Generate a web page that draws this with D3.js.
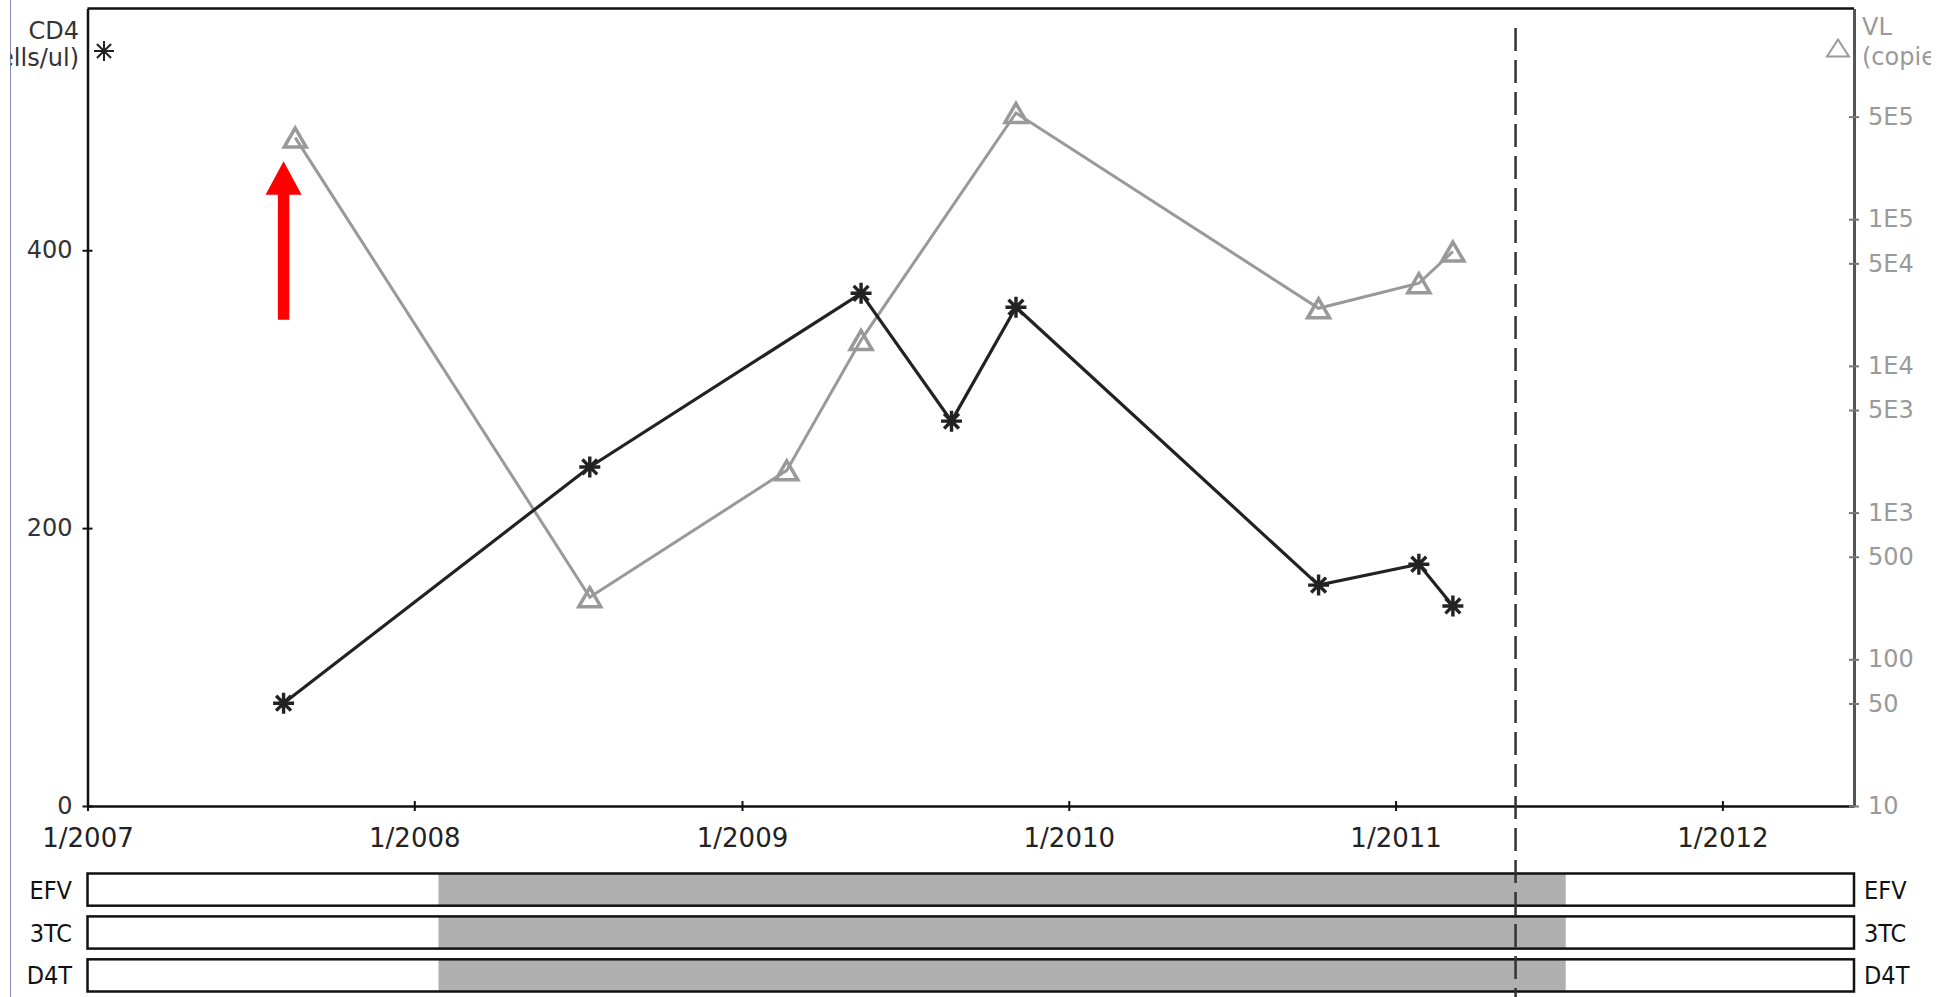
<!DOCTYPE html>
<html><head><meta charset="utf-8">
<script src="https://cdn.jsdelivr.net/npm/d3@7"></script>
<style>body{margin:0;background:#fff;overflow:hidden} svg{display:block}</style>
</head><body>
<svg id="c" width="1952" height="997"></svg>
<script>
// ---- data ----
const cd4Dates  = ["2007-08-08","2008-07-15","2009-05-14","2009-08-23","2009-11-03","2010-10-07","2011-01-27","2011-03-06"];
const cd4Values = [74, 244, 369, 277, 359, 159, 174, 144];
const vlDates   = ["2007-08-21","2008-07-15","2009-02-20","2009-05-14","2009-11-03","2010-10-07","2011-01-27","2011-03-06"];
const vlValues  = [360000, 265, 1940, 15000, 530000, 24700, 36600, 60200];
const xTickDates = ["2007-01-01","2008-01-01","2009-01-01","2010-01-01","2011-01-01","2012-01-01"];
const leftTicks  = [0, 200, 400];
const rightTicks = [10, 50, 100, 500, 1000, 5000, 10000, 50000, 100000, 500000];
const rightTickLabels = ["10","50","100","500","1E3","5E3","1E4","5E4","1E5","5E5"];
const drugs      = ["EFV","3TC","D4T"];
const drugStart  = ["2008-01-28","2008-01-28","2008-01-28"];
const drugEnd    = ["2011-07-10","2011-07-10","2011-07-10"];
const markerDate = "2011-05-15";
const arrowDate  = "2007-08-08";
const arrowCD4   = [350, 440, 464]; // shaft bottom, head base, tip (CD4 units)
const xDomain    = ["2007-01-01","2012-05-27"];
const cd4Max = 574, vlMin = 10, vlMax = 2.73e6;

// ---- setup ----
const parse = d3.utcParse("%Y-%m-%d");
const svg = d3.select("#c");
const L = 87.5, R = 1854, T = 8.5, B = 806;
const x = d3.scaleUtc().domain(xDomain.map(parse)).range([L, R]);
const yL = d3.scaleLinear().domain([0, cd4Max]).range([B, T]);
const yR = d3.scaleLog().domain([vlMin, vlMax]).range([B, T]);
const FONT = "DejaVu Sans, Verdana, sans-serif";

// the panel is cut at x=10.5 on the left and x=1931 on the right
svg.append("defs").append("clipPath").attr("id","clipP")
  .append("rect").attr("x",10.5).attr("y",0).attr("width",1920.5).attr("height",997);

// window edge line
svg.append("line").attr("x1",10.5).attr("x2",10.5).attr("y1",0).attr("y2",997)
  .attr("stroke","#8a8ab4").attr("stroke-width",1);

// drug bars
const rowY = d3.scaleBand().domain(drugs).range([873.5, 991.5]).paddingInner(0.25);
const bars = svg.append("g");
drugs.forEach((d,i)=>{
  const y0 = rowY(d), h = rowY.bandwidth();
  bars.append("rect").attr("x",L).attr("y",y0).attr("width",R-L).attr("height",h).attr("fill","#fff");
  bars.append("rect").attr("x",x(parse(drugStart[i]))).attr("y",y0)
    .attr("width",x(parse(drugEnd[i]))-x(parse(drugStart[i]))).attr("height",h).attr("fill","#b0b0b0");
  bars.append("rect").attr("x",L).attr("y",y0).attr("width",R-L).attr("height",h)
    .attr("fill","none").attr("stroke","#111").attr("stroke-width",2.5);
  bars.append("text").attr("x",72).attr("y",y0+h/2).attr("dy","0.36em").attr("text-anchor","end")
    .attr("font-family","DejaVu Sans Condensed, DejaVu Sans").attr("font-size",25).attr("fill","#111").text(d);
  bars.append("text").attr("x",1864).attr("y",y0+h/2).attr("dy","0.36em").attr("text-anchor","start")
    .attr("font-family","DejaVu Sans Condensed, DejaVu Sans").attr("font-size",25).attr("fill","#111").text(d);
});

// top border
svg.append("line").attr("x1",L).attr("x2",R).attr("y1",T).attr("y2",T).attr("stroke","#111").attr("stroke-width",2.5);

// bottom axis
const gx = svg.append("g").attr("transform",`translate(0,${B})`)
  .call(d3.axisBottom(x).tickValues(xTickDates.map(parse)).tickFormat(d3.utcFormat("%-m/%Y")).tickSizeOuter(0).tickSizeInner(5));
gx.select(".domain").attr("stroke","#111").attr("stroke-width",2.5);
gx.selectAll(".tick line").attr("y1",-5).attr("y2",5).attr("stroke","#111").attr("stroke-width",2);
gx.selectAll(".tick text").attr("y",41).attr("dy",null).attr("font-family",FONT).attr("font-size",26).attr("fill","#222");

// left axis
const gl = svg.append("g").attr("transform",`translate(${L},0)`)
  .call(d3.axisLeft(yL).tickValues(leftTicks).tickFormat(d3.format("d")).tickSizeOuter(0).tickSizeInner(5));
gl.select(".domain").attr("stroke","#111").attr("stroke-width",2.5);
gl.selectAll(".tick line").attr("x1",-5).attr("x2",5).attr("stroke","#111").attr("stroke-width",2);
gl.selectAll(".tick text").attr("x",-15).attr("font-family",FONT).attr("font-size",24).attr("fill","#333");

// right axis
const gr = svg.append("g").attr("transform",`translate(${R},0)`)
  .call(d3.axisRight(yR).tickValues(rightTicks).tickFormat((d,i)=>rightTickLabels[i]).tickSizeOuter(0).tickSizeInner(5));
gr.select(".domain").attr("stroke","#555").attr("stroke-width",3);
gr.selectAll(".tick line").attr("x1",-5).attr("x2",5).attr("stroke","#777").attr("stroke-width",2);
gr.selectAll(".tick text").attr("x",14).attr("font-family",FONT).attr("font-size",24).attr("fill","#9a9a9a");

// axis titles (cut by the panel edges, as in the original)
const tl = svg.append("g").attr("clip-path","url(#clipP)");
tl.append("text").attr("x",79).attr("y",39).attr("text-anchor","end").attr("font-family",FONT).attr("font-size",24).attr("fill","#333").text("CD4");
tl.append("text").attr("x",79).attr("y",66).attr("text-anchor","end").attr("font-family",FONT).attr("font-size",24).attr("fill","#333").text("(cells/ul)");
tl.append("text").attr("x",1862).attr("y",35).attr("font-family",FONT).attr("font-size",24).attr("fill","#9a9a9a").text("VL");
tl.append("text").attr("x",1862).attr("y",65).attr("font-family",FONT).attr("font-size",24).attr("fill","#9a9a9a").text("(copies/ml)");

// marker helpers
function starPath(cx, cy, r){
  const k = r*0.7071;
  return `M${cx-r},${cy}L${cx+r},${cy}M${cx},${cy-r}L${cx},${cy+r}M${cx-k},${cy-k}L${cx+k},${cy+k}M${cx-k},${cy+k}L${cx+k},${cy-k}`;
}
function triPath(cx, cy, w, h){
  return `M${cx},${cy-h/2}L${cx+w/2},${cy+h/2}L${cx-w/2},${cy+h/2}Z`;
}

// legend markers
svg.append("path").attr("d",starPath(104,51,10)).attr("stroke","#222").attr("stroke-width",2).attr("fill","none");
svg.append("path").attr("d",triPath(1838,48,22,17)).attr("stroke","#9a9a9a").attr("stroke-width",2).attr("fill","none");

// dashed current-date line
svg.append("line").attr("x1",x(parse(markerDate))).attr("x2",x(parse(markerDate))).attr("y1",28).attr("y2",997)
  .attr("stroke","#333").attr("stroke-width",2.5).attr("stroke-dasharray","23,9");

// VL series
const vl = vlDates.map((d,i)=>({x:x(parse(d)), y:yR(vlValues[i])}));
svg.append("path").attr("d",d3.line().x(d=>d.x).y(d=>d.y)(vl)).attr("fill","none").attr("stroke","#999").attr("stroke-width",3);

// CD4 series
const cd = cd4Dates.map((d,i)=>({x:x(parse(d)), y:yL(cd4Values[i])}));
svg.append("path").attr("d",d3.line().x(d=>d.x).y(d=>d.y)(cd)).attr("fill","none").attr("stroke","#222").attr("stroke-width",3.2);

svg.append("g").selectAll("path").data(vl).join("path")
  .attr("d",d=>triPath(d.x,d.y,22,19)).attr("fill","none").attr("stroke","#999").attr("stroke-width",3.5);
svg.append("g").selectAll("path").data(cd).join("path")
  .attr("d",d=>starPath(d.x,d.y,10.5)).attr("fill","none").attr("stroke","#222").attr("stroke-width",3.4);

// red arrow annotation
const ax = x(parse(arrowDate));
const yb = yL(arrowCD4[0]), yh = yL(arrowCD4[1]), yt = yL(arrowCD4[2]);
svg.append("path").attr("d",`M${ax-5.7},${yb}L${ax-5.7},${yh}L${ax-18},${yh}L${ax},${yt}L${ax+18},${yh}L${ax+5.7},${yh}L${ax+5.7},${yb}Z`)
  .attr("fill","#ff0000");
</script>
</body></html>
